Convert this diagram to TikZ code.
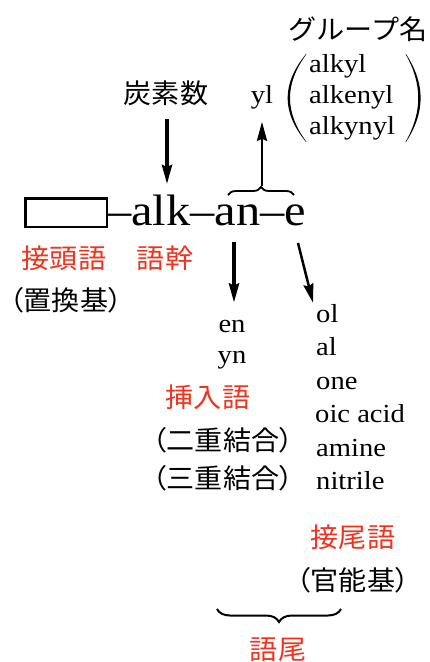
\documentclass[tikz,border=0pt]{standalone}
\usepackage{fontspec}
\setmainfont{Liberation Serif}
\newfontfamily\lat[FakeStretch=1.1]{Liberation Serif}
\newfontfamily\jp[FakeStretch=1.04]{Noto Sans CJK JP}
\newfontfamily\jpp[FakeStretch=1.04,RawFeature=+palt]{Noto Sans CJK JP}
\usetikzlibrary{arrows.meta,decorations.pathreplacing,calc}
\definecolor{myred}{RGB}{240,50,30}
\begin{document}
\begin{tikzpicture}[x=1pt,y=-1pt,
  jptext/.style={inner sep=0pt, font=\jp\fontsize{27}{30}\selectfont},
  jpptext/.style={inner sep=0pt, font=\jpp\fontsize{27}{30}\selectfont},
  redtext/.style={jptext, text=myred},
  lattext/.style={inner sep=0pt, font=\lat\fontsize{26}{30}\selectfont},
  arr/.style={-{Stealth[length=19pt,width=10pt,inset=2pt]}, line width=3pt},
  bracestyle/.style={decorate, line width=1.8pt}
]
\useasboundingbox (0,0) rectangle (429,662);

% top group
\node[jptext] (group) at (358,29) {グループ名};
\node[jptext] (tanso) at (166,93) {炭素数};
\node[lattext, anchor=base] (yl) at (262,103) {yl};
\node[lattext, anchor=base west] (alkyl) at (309,72) {alkyl};
\node[lattext, anchor=base west] (alkenyl) at (309,103) {alkenyl};
\node[lattext, anchor=base west] (alkynyl) at (309,134) {alkynyl};
% big parentheses
\fill (306,54) .. controls (281.5,84) and (281.5,112) .. (306,142)
  -- (306.5,142) .. controls (284.5,112) and (284.5,84) .. (306.5,54) -- cycle;
\fill (406,54) .. controls (425.5,84) and (425.5,112) .. (406,142)
  -- (405.5,142) .. controls (422.5,112) and (422.5,84) .. (405.5,54) -- cycle;

% main row
\node[draw, line width=2.5pt, minimum width=81.5pt, minimum height=28.5pt, inner sep=0pt] (box) at (66,212.5) {};
\node[anchor=base west, inner sep=0pt, font=\lat\fontsize{44}{48}\selectfont] (main) at (107,225) {–alk–an–e};
\coordinate (alkTop) at (167,184);
\coordinate (braceL) at (228,195);
\coordinate (braceR) at (294,195);
\coordinate (braceTip) at (262,186);
\coordinate (anBottom) at (234,242);
\coordinate (eBottom) at (298,243);

\draw[bracestyle, decoration={brace, amplitude=8pt}] (braceL) -- (braceR);
\draw[arr, line width=3.5pt, shorten <=13.5pt] (tanso.south -| alkTop) -- (alkTop);
\draw[arr, line width=2.5pt, shorten >=13pt] (braceTip) -- (braceTip |- yl.south);

% labels under main row
\node[redtext] (settou) at (64,258) {接頭語};
\node[redtext] (gokan) at (165,258) {語幹};
\node[jpptext] (chikan) at (66,300) {（置換基）};

% infix column
\node[lattext, anchor=base] (en) at (232,332) {en};
\node[lattext, anchor=base] (yn) at (232,363) {yn};
\node[redtext] (sounyu) at (208,397) {挿入語};
\node[jpptext] (niju) at (223,440) {（二重結合）};
\node[jpptext] (sanju) at (223,478) {（三重結合）};
\draw[arr, line width=3.5pt, shorten >=17pt] (anBottom) -- (anBottom |- en.north);

% suffix column
\node[lattext, anchor=base west] (ol) at (316,322) {ol};
\node[lattext, anchor=base west] (al) at (316,355.5) {al};
\node[lattext, anchor=base west] (one) at (316,389) {one};
\node[lattext, anchor=base west] (oic) at (315,422.5) {oic acid};
\node[lattext, anchor=base west] (amine) at (316,456) {amine};
\node[lattext, anchor=base west] (nitrile) at (316,489.5) {nitrile};
\draw[arr, line width=2.5pt] (eBottom) -- ($(ol.north west)+(-3,-1)$);
\node[redtext] (setsubi) at (353,537) {接尾語};
\node[jpptext] (kannou) at (353,580) {（官能基）};

% bottom brace
\coordinate (bbL) at (217,609);
\coordinate (bbR) at (341,609);
\draw[bracestyle, line width=2pt, decoration={brace, amplitude=13pt}] (bbR) -- (bbL);
\node[redtext] (gobi) at (278,650) {語尾};
\end{tikzpicture}
\end{document}
